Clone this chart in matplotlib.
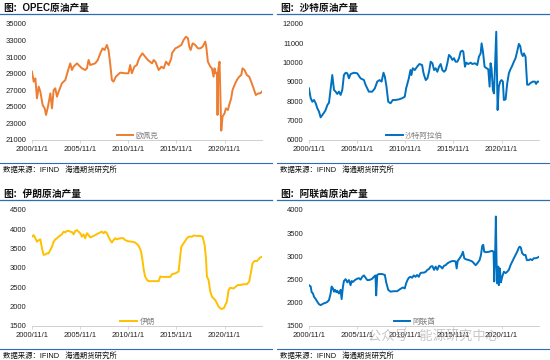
import numpy as np
import matplotlib
matplotlib.use('Agg')
import matplotlib.pyplot as plt
from matplotlib.lines import Line2D

plt.rcParams['font.family'] = ['Liberation Sans', 'Noto Sans CJK SC', 'DejaVu Sans']

# OPEC原油产量 (decimal year, value)
opec_x = [2000.83, 2001.01, 2001.18, 2001.35, 2001.53, 2001.70, 2001.94, 2002.15, 2002.29, 2002.49,
          2002.74, 2002.91, 2003.08, 2003.25, 2003.43, 2003.60, 2003.94, 2004.29, 2004.64, 2004.81,
          2004.98, 2005.15, 2005.50, 2005.67, 2006.02, 2006.36, 2006.54, 2006.71, 2006.88, 2007.40,
          2007.67, 2007.92, 2008.16, 2008.37, 2008.61, 2008.78, 2008.95, 2009.13, 2009.30, 2009.54,
          2009.99, 2010.51, 2010.85, 2011.03, 2011.20, 2011.47, 2011.72, 2011.89, 2012.06, 2012.30,
          2012.58, 2012.86, 2013.30, 2013.47, 2013.65, 2013.99, 2014.27, 2014.51, 2014.75, 2015.03,
          2015.30, 2015.37, 2015.72, 2016.06, 2016.34, 2016.58, 2016.82, 2017.03, 2017.17, 2017.31,
          2017.52, 2017.79, 2018.07, 2018.31, 2018.55, 2018.83, 2018.93, 2019.10, 2019.35, 2019.52,
          2019.69, 2019.79, 2019.93, 2020.04, 2020.10, 2020.17, 2020.31, 2020.49, 2020.62, 2020.83,
          2020.97, 2021.18, 2021.31, 2021.52, 2021.66, 2021.87, 2022.11, 2022.35, 2022.56, 2022.70,
          2022.90, 2023.15, 2023.39, 2023.66, 2023.84, 2024.08, 2024.35, 2024.53, 2024.70]
opec_y = [29250, 28040, 28440, 26030, 27440, 26830, 25220, 24820, 24020, 25020,
          26630, 24820, 27030, 27240, 26230, 26830, 27840, 28240, 29650, 30250,
          29450, 29850, 30250, 30050, 29650, 29450, 29650, 30660, 30050, 30250,
          30660, 31460, 32060, 31860, 32470, 31860, 30250, 28240, 28040, 28640,
          29130, 29050, 29050, 30050, 29050, 29850, 30050, 30660, 31060, 31460,
          31060, 30660, 30250, 30660, 30450, 29450, 29850, 29650, 30450, 30050,
          30860, 31460, 32060, 32260, 32470, 33070, 33470, 33270, 32260, 31860,
          32670, 32470, 32060, 32060, 32260, 32870, 32260, 30450, 29850, 29650,
          28640, 29650, 29050, 29050, 24020, 29450, 30450, 22130, 23820, 24220,
          24820, 24620, 25220, 26030, 27030, 27640, 28240, 28640, 28840, 29650,
          29450, 28840, 28640, 27840, 27240, 26430, 26630, 26630, 26830]

# 沙特原油产量
saudi_x = [2000.83, 2001.01, 2001.18, 2001.35, 2001.53, 2001.70, 2001.87, 2002.04, 2002.22, 2002.39,
           2002.56, 2002.74, 2002.91, 2003.08, 2003.25, 2003.43, 2003.60, 2003.77, 2003.94, 2004.12,
           2004.29, 2004.46, 2004.64, 2004.81, 2004.98, 2005.15, 2005.50, 2005.84, 2006.19, 2006.54,
           2006.71, 2006.88, 2007.05, 2007.40, 2007.67, 2007.92, 2008.16, 2008.37, 2008.57, 2008.71,
           2008.88, 2009.06, 2009.30, 2009.54, 2009.82, 2010.16, 2010.51, 2010.78, 2010.92, 2011.06,
           2011.20, 2011.37, 2011.47, 2011.61, 2011.82, 2012.06, 2012.30, 2012.58, 2012.70, 2012.78,
           2012.96, 2013.13, 2013.30, 2013.47, 2013.65, 2013.82, 2013.99, 2014.16, 2014.34, 2014.51,
           2014.68, 2014.86, 2015.03, 2015.20, 2015.37, 2015.55, 2015.72, 2015.89, 2016.06, 2016.24,
           2016.41, 2016.58, 2016.76, 2016.86, 2017.03, 2017.17, 2017.38, 2017.62, 2017.79, 2018.07,
           2018.31, 2018.48, 2018.66, 2018.76, 2018.90, 2019.07, 2019.28, 2019.45, 2019.59, 2019.69,
           2019.79, 2019.93, 2020.04, 2020.14, 2020.28, 2020.42, 2020.55, 2020.69, 2020.83, 2020.97,
           2021.07, 2021.25, 2021.42, 2021.59, 2021.76, 2021.94, 2022.11, 2022.28, 2022.45, 2022.63,
           2022.77, 2022.90, 2023.04, 2023.15, 2023.32, 2023.49, 2023.66, 2023.84, 2024.08, 2024.29,
           2024.42, 2024.56, 2024.70]
saudi_y = [8670, 8160, 7980, 8070, 7900, 7640, 7470, 7170, 7290, 7410,
           7550, 7810, 7930, 8670, 9360, 8590, 8500, 8380, 8500, 8330,
           8590, 9360, 9480, 9450, 9190, 9410, 9480, 9450, 9190, 9100,
           8850, 8670, 8500, 8500, 8670, 9020, 9100, 9020, 9480, 9280,
           8760, 7980, 7900, 8070, 8070, 8100, 8160, 8240, 8670, 8930,
           9190, 9620, 9360, 9710, 9620, 9790, 9930, 9880, 9530, 9360,
           9100, 9190, 9530, 10050, 9970, 9620, 9710, 9530, 9790, 9930,
           9620, 9530, 9620, 9970, 10400, 10310, 10140, 10230, 10050, 10050,
           10230, 10570, 10620, 10570, 9790, 10000, 9930, 10000, 9930, 9970,
           9880, 10310, 10480, 11000, 10570, 9790, 9710, 9660, 8760, 9970,
           9710, 8590, 8410, 9620, 11600, 7550, 8760, 9020, 9100, 9020,
           8070, 8100, 8930, 9450, 9660, 9840, 10050, 10230, 10570, 10970,
           10860, 10480, 10340, 10480, 10310, 8860, 8860, 8950, 9020, 9020,
           8900, 9020, 9020]

# 伊朗原油产量
iran_x = [2000.83, 2001.01, 2001.18, 2001.35, 2001.53, 2001.70, 2001.87, 2002.04, 2002.22, 2002.39,
          2002.56, 2002.74, 2002.91, 2003.08, 2003.25, 2003.43, 2003.60, 2003.77, 2003.94, 2004.12,
          2004.29, 2004.46, 2004.64, 2004.81, 2004.98, 2005.15, 2005.33, 2005.50, 2005.67, 2005.84,
          2006.02, 2006.19, 2006.36, 2006.54, 2006.71, 2006.88, 2007.05, 2007.40, 2007.74, 2008.09,
          2008.26, 2008.43, 2008.61, 2008.78, 2008.95, 2009.13, 2009.30, 2009.47, 2009.64, 2009.99,
          2010.33, 2010.51, 2010.85, 2011.20, 2011.54, 2011.82, 2011.96, 2012.17, 2012.30, 2012.44,
          2012.58, 2012.78, 2012.96, 2013.99, 2014.16, 2014.34, 2015.20, 2015.37, 2015.72, 2016.06,
          2016.24, 2016.34, 2016.58, 2016.93, 2017.10, 2017.45, 2017.62, 2017.96, 2018.31, 2018.55,
          2018.76, 2018.90, 2019.00, 2019.17, 2019.35, 2019.52, 2019.86, 2020.04, 2020.21, 2020.49,
          2020.76, 2020.90, 2021.07, 2021.25, 2021.42, 2021.76, 2022.01, 2022.21, 2022.45, 2022.80,
          2023.15, 2023.39, 2023.59, 2023.73, 2023.94, 2024.18, 2024.35, 2024.53, 2024.70]
iran_y = [3810, 3850, 3770, 3680, 3720, 3740, 3510, 3340, 3350, 3380,
          3380, 3470, 3550, 3680, 3740, 3770, 3810, 3840, 3870, 3940,
          3920, 3960, 3960, 3940, 3930, 3870, 3960, 3980, 3940, 3900,
          3810, 3870, 3770, 3900, 3850, 3790, 3810, 3850, 3900, 3940,
          3900, 3940, 3900, 3810, 3720, 3660, 3720, 3770, 3740, 3770,
          3770, 3720, 3690, 3680, 3660, 3600, 3550, 3420, 3210, 2950,
          2780, 2690, 2660, 2660, 2780, 2770, 2770, 2840, 2860, 2910,
          3340, 3550, 3640, 3770, 3810, 3810, 3840, 3830, 3830, 3810,
          3600, 3250, 2780, 2690, 2390, 2260, 2170, 2090, 2000, 1940,
          1960, 2040, 2130, 2430, 2490, 2470, 2520, 2560, 2560, 2580,
          2580, 2650, 2910, 3120, 3180, 3180, 3220, 3270, 3290]

# 阿联酋原油产量
uae_x = [2000.83, 2001.01, 2001.11, 2001.25, 2001.35, 2001.53, 2001.70, 2001.87, 2002.04, 2002.22,
         2002.39, 2002.56, 2002.74, 2002.91, 2003.08, 2003.18, 2003.32, 2003.43, 2003.53, 2003.67,
         2003.77, 2003.94, 2004.12, 2004.22, 2004.36, 2004.46, 2004.64, 2004.81, 2004.98, 2005.15,
         2005.26, 2005.40, 2005.60, 2005.84, 2006.02, 2006.19, 2006.36, 2006.54, 2006.71, 2006.88,
         2007.05, 2007.23, 2007.40, 2007.57, 2007.74, 2007.81, 2007.92, 2008.09, 2008.43, 2008.71,
         2008.85, 2009.06, 2009.30, 2009.64, 2009.99, 2010.33, 2010.58, 2010.78, 2010.92, 2011.06,
         2011.20, 2011.37, 2011.54, 2011.72, 2011.89, 2012.06, 2012.23, 2012.41, 2012.58, 2012.78,
         2012.96, 2013.13, 2013.30, 2013.47, 2013.65, 2013.82, 2013.99, 2014.16, 2014.34, 2014.51,
         2014.68, 2014.86, 2015.03, 2015.20, 2015.37, 2015.55, 2015.72, 2015.89, 2016.06, 2016.17,
         2016.27, 2016.48, 2016.69, 2016.82, 2016.96, 2017.10, 2017.45, 2017.79, 2017.96, 2018.14,
         2018.31, 2018.55, 2018.69, 2018.83, 2018.93, 2019.03, 2019.24, 2019.52, 2019.86, 2020.00,
         2020.07, 2020.17, 2020.24, 2020.31, 2020.38, 2020.49, 2020.55, 2020.66, 2020.76, 2020.90,
         2021.07, 2021.25, 2021.42, 2021.59, 2021.76, 2021.94, 2022.11, 2022.28, 2022.45, 2022.63,
         2022.73, 2022.83, 2022.97, 2023.15, 2023.32, 2023.46, 2023.66, 2023.84, 2024.01, 2024.18,
         2024.35, 2024.53, 2024.70]
uae_y = [2380, 2350, 2230, 2200, 2130, 2080, 2020, 1970, 1950, 1970,
         1990, 2000, 2020, 2060, 2200, 2350, 2310, 2240, 2280, 2230,
         2260, 2200, 2280, 2080, 2350, 2470, 2510, 2440, 2490, 2380,
         2470, 2450, 2490, 2520, 2530, 2500, 2560, 2590, 2540, 2490,
         2490, 2500, 2520, 2560, 2590, 2160, 2600, 2620, 2620, 2600,
         2440, 2280, 2240, 2250, 2250, 2300, 2330, 2310, 2420, 2490,
         2540, 2560, 2540, 2590, 2560, 2600, 2560, 2640, 2650, 2650,
         2670, 2710, 2730, 2780, 2790, 2710, 2780, 2710, 2800, 2780,
         2740, 2800, 2810, 2850, 2870, 2890, 2900, 2900, 2890, 2740,
         2900, 2960, 3030, 3100, 2960, 2940, 2920, 2890, 2850, 2810,
         2850, 2920, 3030, 3230, 3250, 3100, 3090, 3100, 3120, 3100,
         2460, 3100, 3860, 2890, 2420, 2780, 2380, 2740, 2440, 2560,
         2670, 2640, 2670, 2710, 2810, 2890, 2960, 3030, 3100, 3190,
         3210, 3190, 3070, 3030, 3030, 2920, 2920, 2940, 2920, 2960,
         2960, 2970, 2990]

tick_years = [2000.833, 2005.833, 2010.833, 2015.833, 2020.833]
tick_labels = ['2000/11/1', '2005/11/1', '2010/11/1', '2015/11/1', '2020/11/1']

W, H = 550, 360
fig = plt.figure(figsize=(W / 100, H / 100), dpi=100)
BLUE_RULE = '#2E6DB4'


def panel(ox, oy, title, xs, ys, color, label, ylim, ystep):
    # axes: x 32..262, y 24..140 inside panel (pixels from top)
    ax = fig.add_axes([(ox + 32) / W, 1 - (oy + 140) / H, 230 / W, 116 / H])
    ax.plot(xs, ys, color=color, lw=1.4, label=label)
    ax.set_xlim(2000.833, 2024.72)
    ax.set_ylim(*ylim)
    ax.set_yticks(np.arange(ylim[0], ylim[1] + 1, ystep))
    ax.set_xticks(tick_years)
    ax.set_xticklabels(tick_labels)
    ax.tick_params(axis='both', labelsize=5.5, colors='#222222', pad=2)
    ax.tick_params(axis='y', length=0, pad=4)
    ax.tick_params(axis='x', length=2.5, color='#d0d0d0', width=0.6)
    for s in ['top', 'right', 'left']:
        ax.spines[s].set_visible(False)
    ax.spines['bottom'].set_color('#d0d0d0')
    ax.spines['bottom'].set_linewidth(0.7)
    ax.patch.set_alpha(0)
    leg = ax.legend(loc='center', bbox_to_anchor=((ox + 137.5) / W, 1 - (oy + 136) / H),
                    bbox_transform=fig.transFigure, frameon=False, fontsize=5.5,
                    handlelength=2.2, handletextpad=0.3, borderpad=0)
    for t in leg.get_texts():
        t.set_color('#7f7f7f')

    fig.text((ox + 3) / W, 1 - (oy + 7.5) / H, title, fontsize=7, fontweight='bold',
             ha='left', va='center', color='#111111')
    fig.add_artist(Line2D([(ox + 0) / W, (ox + 272) / W], [1 - (oy + 14) / H] * 2,
                          transform=fig.transFigure, color=BLUE_RULE, lw=0.9))
    fig.add_artist(Line2D([(ox + 0) / W, (ox + 272) / W], [1 - (oy + 163) / H] * 2,
                          transform=fig.transFigure, color=BLUE_RULE, lw=0.8))
    fig.text((ox + 3) / W, 1 - (oy + 170) / H, '数据来源：IFIND   海通期货研究所', fontsize=5.3,
             ha='left', va='center', color='#111111')
    return ax


panel(0, 0, '图：OPEC原油产量', opec_x, opec_y, '#ED7D31', '欧佩克', (21000, 35000), 2000)
panel(277, 0, '图：沙特原油产量', saudi_x, saudi_y, '#0070C0', '沙特阿拉伯', (6000, 12000), 1000)
panel(0, 186, '图：伊朗原油产量', iran_x, iran_y, '#FFC000', '伊朗', (1500, 4500), 500)
panel(277, 186, '图：阿联酋原油产量', uae_x, uae_y, '#0070C0', '阿联酋', (1500, 4000), 500)

# faint watermark in the lower right
fig.text(368 / W, 1 - 336 / H, '公众号 · 能源研究中心', fontsize=9.5, color='#9a9a9a',
         alpha=0.55, ha='left', va='center')

fig.savefig('out.png', dpi=100)
